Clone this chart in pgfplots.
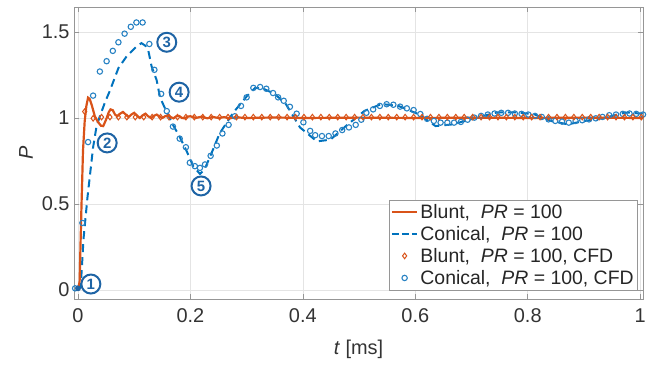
\documentclass[border=0pt]{standalone}
\usepackage{fontspec}
\setmainfont{Liberation Sans}
\usepackage{pgfplots}
\pgfplotsset{compat=1.18}
\definecolor{morange}{RGB}{217,83,25}
\definecolor{mblue}{RGB}{0,114,189}
\definecolor{cblue}{RGB}{40,130,195}
\definecolor{ablue}{RGB}{30,100,165}
\definecolor{gridc}{RGB}{228,228,228}
\definecolor{axc}{RGB}{150,150,150}
\begin{document}
\begin{tikzpicture}
\begin{axis}[
  scale only axis, width=569bp, height=292bp,
  xmin=-0.007, xmax=1.005, ymin=-0.052, ymax=1.645,
  xtick={0,0.2,0.4,0.6,0.8,1}, ytick={0,0.5,1,1.5},
  /pgf/number format/assume math mode=true,
  /pgf/number format/fixed,
  font=\fontsize{20}{24}\selectfont,
  tick label style={font=\fontsize{20}{24}\selectfont, text=black!80},
  xticklabel style={yshift=-6bp},
  yticklabel style={xshift=-1bp},
  grid=major, major grid style={gridc, line width=0.6pt},
  axis line style={axc, line width=0.8pt},
  tick style={axc, line width=0.6pt}, major tick length=5bp,
  tick align=inside,
  xlabel={\textit{t} [ms]}, ylabel={\textit{P}},
  label style={text=black!80},
  xlabel style={yshift=-11bp},
  ylabel style={yshift=2bp},
  legend cell align=left,
  legend image code/.code={\draw[mark repeat=2,mark phase=2,#1] plot coordinates {(0cm,0cm) (0.45cm,0cm) (0.9cm,0cm)};},
  legend style={at={(axis description cs:0.991,0.031)}, anchor=south east,
    draw=axc, fill=white, font=\fontsize{19.5}{23}\selectfont, text=black!85,
    row sep=2.5bp, inner xsep=2bp, inner ysep=2bp},
]
% Conical CFD (circles)
\addplot[forget plot, only marks, mark=o, mark size=2.7, cblue, mark options={line width=1.1pt}] coordinates {
(-0.005,0.01)(0.008,0.39)(0.018,0.86)(0.027,1.13)(0.039,1.27)(0.051,1.33)(0.062,1.39)(0.072,1.44)
(0.083,1.49)(0.094,1.53)(0.104,1.555)(0.115,1.555)(0.127,1.43)(0.136,1.28)(0.148,1.14)(0.158,1.04)
(0.169,0.95)(0.181,0.88)(0.192,0.83)(0.199,0.74)(0.208,0.72)(0.217,0.71)(0.226,0.73)(0.236,0.78)
(0.247,0.84)(0.257,0.91)(0.268,0.96)(0.279,1.01)(0.290,1.07)(0.300,1.12)(0.312,1.175)(0.324,1.18)
(0.335,1.17)(0.347,1.145)(0.356,1.12)(0.366,1.10)(0.377,1.065)(0.389,1.025)(0.401,0.975)(0.413,0.925)
(0.422,0.90)(0.434,0.895)(0.446,0.895)(0.458,0.91)(0.470,0.93)(0.482,0.945)(0.494,0.96)(0.504,0.99)
(0.513,1.03)(0.525,1.05)(0.537,1.07)(0.549,1.08)(0.561,1.077)(0.573,1.066)(0.585,1.056)(0.597,1.046)
(0.609,1.023)(0.621,0.995)(0.633,0.983)(0.645,0.973)(0.657,0.973)(0.669,0.973)(0.681,0.977)(0.693,0.99)
(0.705,1.002)(0.717,1.012)(0.729,1.02)(0.741,1.026)(0.753,1.03)(0.765,1.03)(0.777,1.026)(0.789,1.024)
(0.801,1.02)(0.813,1.012)(0.825,1.006)(0.837,0.992)(0.849,0.983)(0.861,0.979)(0.873,0.973)(0.885,0.983)
(0.897,0.987)(0.909,0.992)(0.921,0.998)(0.933,1.006)(0.945,1.016)(0.957,1.02)(0.969,1.024)(0.981,1.026)
(0.993,1.024)(1.005,1.02)
};
\addplot[forget plot, only marks, mark=*, mark size=2.7, ablue] coordinates {(0.0,0.01)};
% Conical model (dashed)
\addplot[forget plot, mblue, line width=2pt, dash pattern=on 8bp off 5bp] coordinates {
(0.000,0.0)(0.005,0.02)(0.010,0.30)(0.017,0.54)(0.027,0.83)(0.033,0.95)(0.039,1.01)(0.048,1.09)
(0.057,1.16)(0.072,1.29)(0.087,1.36)(0.104,1.415)(0.113,1.435)(0.120,1.42)(0.125,1.395)(0.131,1.30)
(0.140,1.22)(0.146,1.12)(0.155,1.055)(0.169,0.96)(0.181,0.89)(0.193,0.81)(0.205,0.72)(0.217,0.675)
(0.225,0.70)(0.235,0.775)(0.252,0.91)(0.276,1.03)(0.300,1.125)(0.315,1.175)(0.330,1.17)(0.350,1.14)
(0.370,1.08)(0.395,0.945)(0.425,0.864)(0.449,0.874)(0.480,0.963)(0.510,1.042)(0.540,1.081)(0.570,1.07)
(0.606,1.022)(0.636,0.953)(0.667,0.963)(0.709,1.002)(0.745,1.032)(0.781,1.032)(0.811,1.022)(0.841,0.983)
(0.871,0.963)(0.902,0.983)(0.938,1.002)(0.974,1.032)(1.005,1.025)
};
% Blunt CFD (diamonds)
\addplot[forget plot, only marks, mark=diamond, mark size=2.8, morange, mark options={line width=1pt}] coordinates {
(0.012,1.037)(0.027,0.998)(0.042,1.005)(0.057,1.005)(0.072,1.005)(0.087,1.005)(0.102,1.005)(0.117,1.005)
(0.132,1.005)(0.147,1.005)(0.162,1.005)(0.177,1.005)(0.192,1.005)(0.207,1.005)(0.222,1.005)(0.237,1.005)
(0.252,1.005)(0.267,1.005)(0.282,1.005)(0.297,1.005)(0.312,1.005)(0.327,1.005)(0.342,1.005)(0.357,1.005)
(0.372,1.005)(0.387,1.005)(0.402,1.005)(0.417,1.005)(0.432,1.005)(0.447,1.005)(0.462,1.005)(0.477,1.005)
(0.492,1.005)(0.507,1.005)(0.522,1.005)(0.537,1.005)(0.552,1.005)(0.567,1.005)(0.582,1.005)(0.597,1.005)
(0.612,1.005)(0.627,1.005)(0.642,1.005)(0.657,1.005)(0.672,1.005)(0.687,1.005)(0.702,1.005)(0.717,1.005)
(0.732,1.005)(0.747,1.005)(0.762,1.005)(0.777,1.005)(0.792,1.005)(0.807,1.005)(0.822,1.005)(0.837,1.005)
(0.852,1.005)(0.867,1.005)(0.882,1.005)(0.897,1.005)(0.912,1.005)(0.927,1.005)(0.942,1.005)(0.957,1.005)
(0.972,1.005)(0.987,1.005)(1.002,1.005)
};
% Blunt model (solid)
\addplot[forget plot, morange, line width=2.2pt] coordinates {
(0.000,0.0)(0.003,0.05)(0.006,0.45)(0.009,0.81)(0.012,0.98)(0.015,1.07)(0.018,1.118)(0.021,1.11)
(0.025,1.07)(0.030,1.01)(0.036,0.975)(0.041,0.955)(0.045,0.953)(0.050,0.99)(0.055,1.035)(0.058,1.05)
(0.062,1.045)(0.066,1.02)(0.070,1.01)(0.075,1.025)(0.080,1.035)(0.085,1.02)(0.090,1.005)(0.095,1.02)
(0.100,1.03)(0.105,1.015)(0.110,1.0)(0.115,1.015)(0.120,1.025)(0.125,1.01)(0.130,1.0)(0.135,1.012)
(0.140,1.02)(0.145,1.008)(0.150,1.0)(0.155,1.01)(0.160,1.015)(0.165,1.005)(0.170,0.998)(0.175,1.01)
(0.180,1.012)(0.185,1.0)(0.190,0.998)(0.195,1.008)(0.200,1.01)(0.210,1.0)(0.220,1.008)(0.230,0.998)
(0.240,1.006)(0.250,1.0)(0.260,1.005)(0.270,0.998)(0.280,1.004)(0.300,1.0)(0.350,1.003)(0.400,1.0)
(0.500,1.002)(0.600,1.0)(0.700,1.002)(0.800,1.0)(0.900,1.002)(1.005,1.0)
};
% legend
\addlegendimage{morange, line width=2.2pt}
\addlegendentry{Blunt,~~\textit{PR} = 100}
\addlegendimage{mblue, line width=2pt, dash pattern=on 7bp off 3bp}
\addlegendentry{Conical,~~\textit{PR} = 100}
\addlegendimage{only marks, mark=diamond, mark size=2.8, morange, mark options={line width=1pt}}
\addlegendentry{Blunt,~~\textit{PR} = 100, CFD}
\addlegendimage{only marks, mark=o, mark size=2.7, cblue, mark options={line width=1.1pt}}
\addlegendentry{Conical,~~\textit{PR} = 100, CFD}
% annotations
\tikzset{ann/.style={circle, draw=ablue, line width=2pt, fill=white, inner sep=0pt, minimum size=19bp,
  text=ablue, font=\fontsize{15}{15}\selectfont\bfseries}}
\node[ann] at (axis cs:0.023,0.035) {1};
\node[ann] at (axis cs:0.052,0.855) {2};
\node[ann] at (axis cs:0.158,1.44) {3};
\node[ann] at (axis cs:0.180,1.15) {4};
\node[ann] at (axis cs:0.219,0.605) {5};
\end{axis}
\pgfresetboundingbox
\useasboundingbox ([shift={(-74bp,-66bp)}]current axis.south west) rectangle ([shift={(10bp,7bp)}]current axis.north east);
\end{tikzpicture}
\end{document}
